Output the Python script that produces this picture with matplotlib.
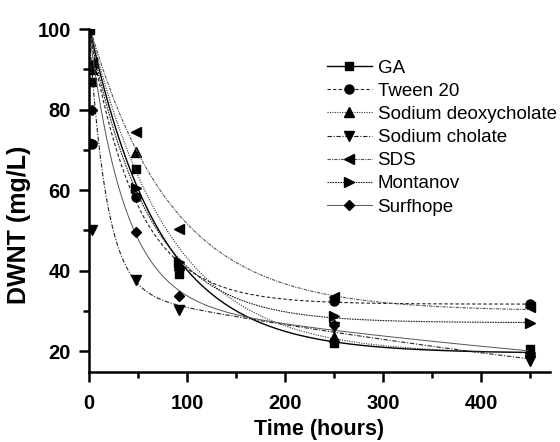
import numpy as np
import matplotlib.pyplot as plt
from matplotlib.ticker import MultipleLocator

plt.rcParams['font.family'] = ['Liberation Sans', 'DejaVu Sans']

t = np.array([0, 3, 48, 92, 250, 450])
ga = [100, 87, 65.3, 39.2, 22, 20.5]
tween20 = [100, 71.5, 58.3, 40.7, 32.5, 31.8]
deoxy = [100, 90, 69.5, 41.4, 23.5, 20]
cholate = [100, 50, 37.7, 30.3, 26, 17.5]
sds = [100, 91.5, 74.4, 50.4, 33.5, 31]
montanov = [100, 72, 60.5, 42.2, 28.7, 27]
surfhope = [100, 80, 49.6, 33.7, 26.5, 19.5]

names = ['GA', 'Tween 20', 'Sodium deoxycholate', 'Sodium cholate', 'SDS', 'Montanov', 'Surfhope']
series = [ga, tween20, deoxy, cholate, sds, montanov, surfhope]
markers = ['s', 'o', '^', 'v', '<', '>', 'D']
msizes = [6, 6.5, 7, 7, 7, 7, 5.5]
styles = ['-', (0, (3, 2)), (0, (1, 1.2)), (0, (4, 1.5, 1, 1.5)),
          (0, (3, 1, 1, 1)), (0, (1.5, 0.8)), '-']
colors = ['black', '#222222', '#333333', '#222222', '#555555', '#222222', '#555555']
widths = [1.0, 0.8, 0.8, 0.8, 0.8, 0.8, 0.7]

# the early (3 h) readings count little in the fit
weights = np.array([1, 0.1, 1, 1, 1, 1])


def fit_biexp(x, y, w):
    # y = c + a*exp(-k1 x) + b*exp(-k2 x), grid on k1, k2, weighted lsq on c, a, b >= 0
    y = np.asarray(y, float)
    x = np.asarray(x, float)
    best = None
    for k1 in np.logspace(-3, -1.3, 50):
        for k2 in np.logspace(-2, -0.85, 50):
            if k2 <= k1 * 1.5:
                continue
            A = np.column_stack([np.ones_like(x), np.exp(-k1 * x), np.exp(-k2 * x)])
            coef, *_ = np.linalg.lstsq(A * w[:, None], y * w, rcond=None)
            if coef[1] < 0 or coef[2] < 0:
                continue
            err = np.sum(((A @ coef - y) * w) ** 2)
            if best is None or err < best[0]:
                best = (err, k1, k2, coef)
    _, k1, k2, coef = best
    return lambda z: coef[0] + coef[1] * np.exp(-k1 * z) + coef[2] * np.exp(-k2 * z)


fig = plt.figure(figsize=(5.6, 4.42), dpi=100)
ax = fig.add_axes([0.159, 0.158, 0.823, 0.776])

tt = np.linspace(0, 450, 600)
for y, name, m, ms, ls, c, lw in zip(series, names, markers, msizes, styles, colors, widths):
    f = fit_biexp(t, y, weights)
    ax.plot(tt, f(tt), ls=ls, color=c, lw=lw)
    ax.plot(t, y, ls='none', marker=m, ms=ms, color='black')
    ax.plot([], [], ls=ls, color=c, lw=lw, marker=m, ms=ms, mfc='black', mec='black', label=name)

ax.set_xlim(0, 470)
ax.set_ylim(14.8, 100)
ax.xaxis.set_major_locator(MultipleLocator(100))
ax.xaxis.set_minor_locator(MultipleLocator(50))
ax.yaxis.set_major_locator(MultipleLocator(20))
ax.yaxis.set_minor_locator(MultipleLocator(10))
ax.set_yticks([20, 40, 60, 80, 100])

for s in ['top', 'right']:
    ax.spines[s].set_visible(False)
for s in ['left', 'bottom']:
    ax.spines[s].set_linewidth(1.8)
ax.tick_params(which='major', length=7, width=1.8, labelsize=14.5, direction='out')
ax.tick_params(which='minor', length=4, width=1.8, direction='out')
ax.tick_params(axis='x', which='major', pad=9)
ax.tick_params(axis='y', which='major', pad=6)
for lab in ax.get_xticklabels() + ax.get_yticklabels():
    lab.set_fontweight('bold')

ax.set_xlabel('Time (hours)', fontsize=15.5, fontweight='bold', labelpad=4)
ax.set_ylabel('DWNT (mg/L)', fontsize=18, fontweight='bold')
ax.yaxis.set_label_coords(-0.125, 0.43)

ax.legend(loc='upper left', bbox_to_anchor=(0.5, 0.933), frameon=False, fontsize=13.5,
          numpoints=1, handlelength=2.4, handletextpad=0.3, labelspacing=0.32,
          borderaxespad=0)

fig.savefig('out.png')
